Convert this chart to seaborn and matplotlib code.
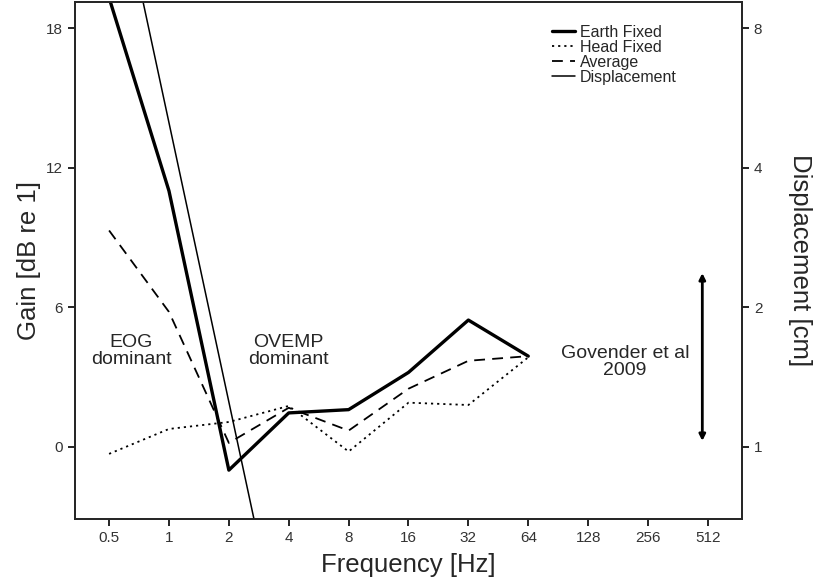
import matplotlib
matplotlib.use("Agg")
import matplotlib.pyplot as plt
import numpy as np
import pandas as pd
import seaborn as sns

# values
freq = [0.5, 1, 2, 4, 8, 16, 32, 64]
earth_fixed = [19.3, 11.0, -1.0, 1.46, 1.6, 3.2, 5.45, 3.9]
head_fixed = [-0.3, 0.77, 1.07, 1.76, -0.2, 1.9, 1.8, 3.85]
average = [9.3, 5.8, 0.17, 1.68, 0.7, 2.5, 3.7, 3.9]

disp_freq = [0.5, 1, 2, 4]
displacement = [20.0, 5.0, 1.25, 0.3125]

xticks = [0.5, 1, 2, 4, 8, 16, 32, 64, 128, 256, 512]
xticklabels = ["0.5", "1", "2", "4", "8", "16", "32", "64", "128", "256", "512"]

sns.set_style("ticks")
plt.rcParams["font.family"] = ["Liberation Sans", "DejaVu Sans"]

df = pd.DataFrame({"freq": freq, "Earth Fixed": earth_fixed,
                   "Head Fixed": head_fixed, "Average": average})
ddf = pd.DataFrame({"freq": disp_freq, "disp": displacement})

fig = plt.figure(figsize=(8.22, 5.85), dpi=100)
ax = fig.add_axes([0.0912, 0.1128, 0.8115, 0.8838])
ax2 = ax.twinx()

sns.lineplot(data=df, x="freq", y="Earth Fixed", ax=ax, color="black", lw=2.4,
             label="Earth Fixed", legend=False)
sns.lineplot(data=df, x="freq", y="Head Fixed", ax=ax, color="black", lw=1.3,
             linestyle=(0, (1.2, 2.2)), label="Head Fixed", legend=False)
sns.lineplot(data=df, x="freq", y="Average", ax=ax, color="black", lw=1.3,
             linestyle=(0, (6, 4)), label="Average", legend=False)
sns.lineplot(data=ddf, x="freq", y="disp", ax=ax2, color="black", lw=1.1,
             label="Displacement", legend=False)

lo, hi = -3.1, 19.12
ax.set_xscale("log", base=2)
ax.set_xlim(0.5 * 2 ** -0.57, 512 * 2 ** 0.57)
ax.set_ylim(lo, hi)
ax.set_xticks(xticks)
ax.set_xticklabels(xticklabels)
ax.minorticks_off()
ax.set_yticks([0, 6, 12, 18])

ax2.set_yscale("log", base=2)
ax2.set_ylim(2 ** (lo / 6), 2 ** (hi / 6))
ax2.set_yticks([1, 2, 4, 8])
ax2.set_yticklabels(["1", "2", "4", "8"])
ax2.minorticks_off()

for a in (ax, ax2):
    a.tick_params(labelsize=11, length=5, width=1.2, colors="black",
                  labelcolor="#333333")
    for s in a.spines.values():
        s.set_linewidth(1.3)
        s.set_visible(True)

ax.set_xlabel("Frequency [Hz]", fontsize=18.5, labelpad=6)
ax.set_ylabel("Gain [dB re 1]", fontsize=18.5, labelpad=4)
ax2.set_ylabel("Displacement [cm]", fontsize=18.5, rotation=270, labelpad=36)

# Govender et al range arrow
ax2.annotate("", xy=(480, 2.37), xytext=(480, 1.03),
             arrowprops=dict(arrowstyle="<|-|>", color="black", lw=2,
                             mutation_scale=9, shrinkA=0, shrinkB=0))

ax.text(0.645, 4.1, "EOG\ndominant", ha="center", va="center", fontsize=14,
        linespacing=1.0)
ax.text(4.0, 4.1, "OVEMP\ndominant", ha="center", va="center", fontsize=14,
        linespacing=1.0)
ax.text(196, 3.65, "Govender et al\n2009", ha="center", va="center", fontsize=14,
        linespacing=0.95)

h1, l1 = ax.get_legend_handles_labels()
h2, l2 = ax2.get_legend_handles_labels()
leg = ax2.legend(h1 + h2, l1 + l2, loc="upper left",
                 bbox_to_anchor=(552 / 822, 1 - 25 / 585),
                 bbox_transform=fig.transFigure,
                 frameon=False, fontsize=11.5, handlelength=1.45, handletextpad=0.3,
                 labelspacing=0.0, borderaxespad=0, borderpad=0)

fig.savefig("out.png", dpi=100)
